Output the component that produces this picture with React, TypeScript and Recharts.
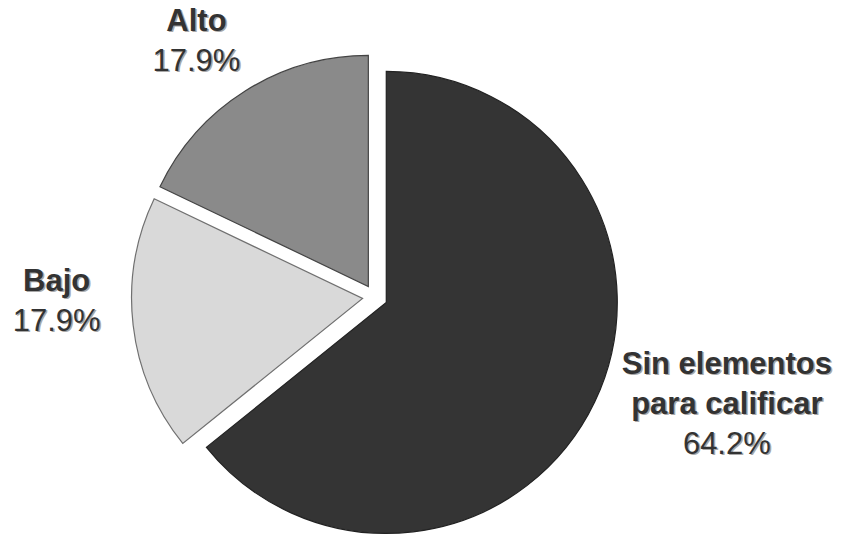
import React from "react";
import { PieChart, Pie, Cell } from "recharts";

// ---- data ----
const categories = ["Sin elementos para calificar", "Bajo", "Alto"];
const nameLines = [["Sin elementos", "para calificar"], ["Bajo"], ["Alto"]];
const values = [64.2, 17.9, 17.9];
const percentLabels = ["64.2%", "17.9%", "17.9%"];

// ---- style ----
const colors = ["#343434", "#d9d9d9", "#8a8a8a"];
const strokes = ["#222222", "#707070", "#444444"];

const data = categories.map((name, i) => ({ name, value: values[i] }));

const W = 843;
const H = 541;
const CX = 375;
const CY = 297;
const R = 231;
const EXPLODE = 12.5;
const START = 90;
const END = -270;
const FONT = "'Liberation Sans', Arial, Helvetica, sans-serif";
const FONT_SIZE = 31;
const LINE_H = 40;
// label placement relative to each exploded slice: radius and angle shift from its mid angle
const LABEL_LAYOUT = [
  { radius: 348, shift: 13.7 },
  { radius: 306, shift: -8.1 },
  { radius: 308, shift: 1.7 },
];

const total = values.reduce((a, b) => a + b, 0);
const midAngles = values.map((v, i) => {
  const before = values.slice(0, i).reduce((a, b) => a + b, 0);
  return START + ((END - START) * (before + v / 2)) / total;
});

const RAD = Math.PI / 180;

function makeLabel(slice: number, pcx: number, pcy: number) {
  return (props: any) => {
    if (props.index !== slice) return null;
    const cx = typeof props.cx === "number" ? props.cx : pcx;
    const cy = typeof props.cy === "number" ? props.cy : pcy;
    const mid = typeof props.midAngle === "number" ? props.midAngle : midAngles[slice];
    const { radius, shift } = LABEL_LAYOUT[slice];
    const a = (mid + shift) * RAD;
    const x = cx + radius * Math.cos(a);
    const y = cy - radius * Math.sin(a);
    const lines = [...nameLines[slice], percentLabels[slice]];
    return (
      <g key={`lbl-${slice}`}>
        {lines.map((t, k) => {
          const bold = k < lines.length - 1;
          const common = {
            x,
            textAnchor: "middle" as const,
            fontFamily: FONT,
            fontSize: FONT_SIZE,
            fontWeight: bold ? 700 : 400,
          };
          return (
            <g key={k}>
              <text {...common} x={x + 1.5} y={y + k * LINE_H + 1.5} fill="#a8a8a8">
                {t}
              </text>
              <text {...common} y={y + k * LINE_H} fill="#333333">
                {t}
              </text>
            </g>
          );
        })}
      </g>
    );
  };
}

export default function App() {
  return (
    <div style={{ position: "absolute", left: 0, top: 0, width: W, height: H, background: "#fff" }}>
      <PieChart width={W} height={H} margin={{ top: 0, right: 0, bottom: 0, left: 0 }}>
        {values.map((_, slice) => {
          const a = midAngles[slice] * RAD;
          const pcx = CX + EXPLODE * Math.cos(a);
          const pcy = CY - EXPLODE * Math.sin(a);
          return (
            <Pie
              key={slice}
              data={data}
              dataKey="value"
              nameKey="name"
              cx={pcx}
              cy={pcy}
              outerRadius={R}
              innerRadius={0}
              startAngle={START}
              endAngle={END}
              paddingAngle={0}
              isAnimationActive={false}
              labelLine={false}
              label={makeLabel(slice, pcx, pcy)}
            >
              {data.map((d, i) => (
                <Cell
                  key={d.name}
                  fill={i === slice ? colors[i] : "none"}
                  stroke={i === slice ? strokes[i] : "none"}
                  strokeWidth={i === slice ? 1.2 : 0}
                />
              ))}
            </Pie>
          );
        })}
      </PieChart>
    </div>
  );
}
